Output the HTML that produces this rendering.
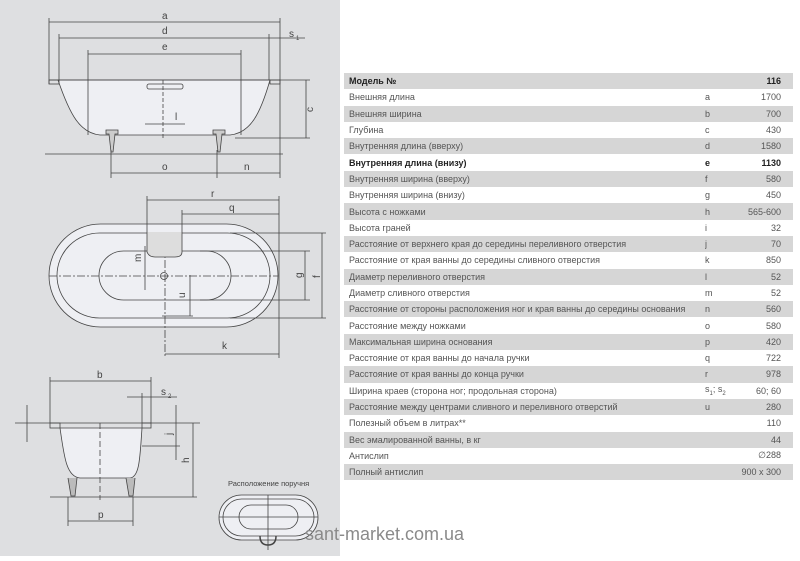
<!DOCTYPE html>
<html><head><meta charset="utf-8"><style>
body{margin:0;width:800px;height:556px;background:#fff;position:relative;overflow:hidden;font-family:"Liberation Sans",sans-serif;}
#left{position:absolute;left:0;top:0;width:340px;height:556px;background:#dedfe1;}
table{position:absolute;left:344px;top:73px;width:449px;table-layout:fixed;border-collapse:collapse;font-family:"Liberation Sans",sans-serif;font-size:9px;color:#555;}
td{box-sizing:border-box;height:16.3px;padding:0 0 0 5px;white-space:nowrap;overflow:hidden;}
tr:nth-child(odd){background:#d6d6d6;}
td.l{text-align:left;padding-left:0}
td.v{text-align:right;padding-right:12px;padding-left:0}
tr.b td{font-weight:bold;color:#222}
#wm{position:absolute;left:305px;top:524px;font-size:18px;color:#8a8a8a;}
</style></head><body>
<div id="left">
<svg width="340" height="556" viewBox="0 0 340 556" stroke="#444" fill="none" stroke-width="0.8" font-family="Liberation Sans" font-size="10">
<path d="M58 80 C70 115 80 133 100 135 L230 135 C250 133 260 115 270 80 Z" fill="#eeeff3"/>
<line x1="49" y1="80" x2="310" y2="80"/>
<rect x="49" y="80" width="10" height="4"/><rect x="270" y="80" width="10" height="4"/>
<line x1="49" y1="18" x2="49" y2="84"/><line x1="280" y1="18" x2="280" y2="178"/>
<line x1="59" y1="34" x2="59" y2="80"/><line x1="269" y1="34" x2="269" y2="80"/>
<line x1="88" y1="50" x2="88" y2="135"/><line x1="241" y1="50" x2="241" y2="135"/>
<line x1="49" y1="22" x2="280" y2="22"/><line x1="59" y1="38" x2="305" y2="38"/><line x1="88" y1="54" x2="241" y2="54"/>
<rect x="147" y="84" width="36" height="5" rx="2"/>
<line x1="163" y1="80" x2="163" y2="140" stroke-dasharray="4 2"/>
<line x1="145" y1="124" x2="185" y2="124"/>
<path d="M106 130 h12 v4 h-3 l-2 18 h-2 l-2 -18 h-3z M213 130 h12 v4 h-3 l-2 18 h-2 l-2 -18 h-3z" fill="#ccc"/>
<line x1="45" y1="154" x2="283" y2="154"/>
<line x1="111" y1="150" x2="111" y2="178"/><line x1="217" y1="150" x2="217" y2="178"/>
<line x1="111" y1="173" x2="280" y2="173"/>
<line x1="235" y1="138" x2="310" y2="138"/><line x1="306" y1="80" x2="306" y2="138"/>
<g fill="#444" stroke="none"><text x="162" y="19">a</text><text x="162" y="34">d</text><text x="162" y="50">e</text><text x="289" y="37">s</text><text x="296" y="40" font-size="6">1</text><text x="175" y="120">l</text><text x="162" y="170">o</text><text x="244" y="170">n</text><text x="313" y="112" transform="rotate(-90 313 112)">c</text></g>
<rect x="49" y="224" width="229" height="103" rx="51.5" fill="#eeeff3"/>
<rect x="57" y="233" width="213" height="85" rx="42.5"/>
<rect x="99" y="251" width="132" height="49" rx="24.5"/>
<line x1="49" y1="276" x2="278" y2="276" stroke-dasharray="8 2 2 2"/>
<line x1="165" y1="232" x2="165" y2="358" stroke-dasharray="8 2 2 2"/>
<circle cx="164" cy="276" r="3.5"/>
<path d="M147 232 v20 q2 5 8 5 h20 q7 0 7 -5 v-20" fill="#ddd"/>
<line x1="147" y1="196" x2="147" y2="232"/><line x1="182" y1="210" x2="182" y2="232"/><line x1="279" y1="196" x2="279" y2="358"/>
<line x1="147" y1="200" x2="279" y2="200"/><line x1="182" y1="214" x2="279" y2="214"/>
<line x1="230" y1="233" x2="326" y2="233"/><line x1="230" y1="318" x2="326" y2="318"/>
<line x1="200" y1="251" x2="310" y2="251"/><line x1="200" y1="300" x2="310" y2="300"/>
<line x1="322" y1="233" x2="322" y2="318"/><line x1="305" y1="251" x2="305" y2="300"/>
<line x1="165" y1="354" x2="279" y2="354"/>
<line x1="190" y1="275" x2="190" y2="316"/><line x1="162" y1="316" x2="193" y2="316"/>
<line x1="145" y1="246" x2="145" y2="290"/>
<g fill="#444" stroke="none"><text x="211" y="197">r</text><text x="229" y="211">q</text><text x="222" y="349">k</text><text x="141" y="262" transform="rotate(-90 141 262)">m</text><text x="185" y="298" transform="rotate(-90 185 298)">u</text><text x="302" y="278" transform="rotate(-90 302 278)">g</text><text x="320" y="278" transform="rotate(-90 320 278)">f</text></g>
<path d="M60 428 C64 455 66 477 80 478 L130 478 C140 477 140 455 142 428 Z" fill="#eeeff3"/>
<line x1="15" y1="423" x2="200" y2="423"/>
<rect x="50" y="423" width="10" height="5"/><rect x="142" y="423" width="9" height="5"/>
<line x1="50" y1="377" x2="50" y2="423"/><line x1="151" y1="377" x2="151" y2="423"/><line x1="142" y1="393" x2="142" y2="423"/>
<line x1="50" y1="381" x2="151" y2="381"/><line x1="127" y1="397" x2="177" y2="397"/>
<line x1="100" y1="423" x2="100" y2="500" stroke-dasharray="6 3"/>
<line x1="142" y1="446" x2="180" y2="446"/>
<line x1="176" y1="405" x2="176" y2="460"/><line x1="193" y1="423" x2="193" y2="497"/>
<line x1="27" y1="405" x2="27" y2="442"/>
<path d="M68 478 l3 18 h4 l2 -18 M126 478 l3 18 h4 l2 -18" fill="#bbb"/>
<line x1="50" y1="497" x2="197" y2="497"/>
<line x1="68" y1="497" x2="68" y2="526"/><line x1="133" y1="497" x2="133" y2="526"/>
<line x1="68" y1="521" x2="133" y2="521"/>
<g fill="#444" stroke="none"><text x="97" y="378">b</text><text x="161" y="395">s</text><text x="168" y="398" font-size="6">2</text><text x="98" y="518">p</text><text x="189" y="463" transform="rotate(-90 189 463)">h</text><text x="172" y="435" transform="rotate(-90 172 435)">j</text><text x="228" y="486" font-size="7.5">Расположение поручня</text></g>
<rect x="219" y="495" width="99" height="45" rx="22.5" fill="#eeeff3"/>
<rect x="223" y="499" width="91" height="37" rx="18.5"/>
<rect x="239" y="505" width="59" height="24" rx="12"/>
<line x1="219" y1="517" x2="318" y2="517"/><line x1="268" y1="495" x2="268" y2="550"/>
<path d="M260 536 q0 9 8 9 q8 0 8 -9" stroke-width="1.5"/>
</svg>
</div>
<table>
<colgroup><col style="width:361px"><col style="width:30px"><col style="width:58px"></colgroup>
<tr class="b"><td>Модель №</td><td class="l"></td><td class="v">116</td></tr>
<tr><td>Внешняя длина</td><td class="l">a</td><td class="v">1700</td></tr>
<tr><td>Внешняя ширина</td><td class="l">b</td><td class="v">700</td></tr>
<tr><td>Глубина</td><td class="l">c</td><td class="v">430</td></tr>
<tr><td>Внутренняя длина (вверху)</td><td class="l">d</td><td class="v">1580</td></tr>
<tr class="b"><td>Внутренняя длина (внизу)</td><td class="l">e</td><td class="v">1130</td></tr>
<tr><td>Внутренняя ширина (вверху)</td><td class="l">f</td><td class="v">580</td></tr>
<tr><td>Внутренняя ширина (внизу)</td><td class="l">g</td><td class="v">450</td></tr>
<tr><td>Высота с ножками</td><td class="l">h</td><td class="v">565-600</td></tr>
<tr><td>Высота граней</td><td class="l">i</td><td class="v">32</td></tr>
<tr><td>Расстояние от верхнего края до середины переливного отверстия</td><td class="l">j</td><td class="v">70</td></tr>
<tr><td>Расстояние от края ванны до середины сливного отверстия</td><td class="l">k</td><td class="v">850</td></tr>
<tr><td>Диаметр переливного отверстия</td><td class="l">l</td><td class="v">52</td></tr>
<tr><td>Диаметр сливного отверстия</td><td class="l">m</td><td class="v">52</td></tr>
<tr><td>Расстояние от стороны расположения ног и края ванны до середины основания</td><td class="l">n</td><td class="v">560</td></tr>
<tr><td>Расстояние между ножками</td><td class="l">o</td><td class="v">580</td></tr>
<tr><td>Максимальная ширина основания</td><td class="l">p</td><td class="v">420</td></tr>
<tr><td>Расстояние от края ванны до начала ручки</td><td class="l">q</td><td class="v">722</td></tr>
<tr><td>Расстояние от края ванны до конца ручки</td><td class="l">r</td><td class="v">978</td></tr>
<tr><td>Ширина краев (сторона ног; продольная сторона)</td><td class="l">s<sub style="font-size:6px">1</sub>; s<sub style="font-size:6px">2</sub></td><td class="v">60; 60</td></tr>
<tr><td>Расстояние между центрами сливного и переливного отверстий</td><td class="l">u</td><td class="v">280</td></tr>
<tr><td>Полезный объем в литрах**</td><td class="l"></td><td class="v">110</td></tr>
<tr><td>Вес эмалированной ванны, в кг</td><td class="l"></td><td class="v">44</td></tr>
<tr><td>Антислип</td><td class="l"></td><td class="v">∅288</td></tr>
<tr><td>Полный антислип</td><td class="l"></td><td class="v">900 x 300</td></tr>
</table>
<div id="wm">sant-market.com.ua</div>
</body></html>
